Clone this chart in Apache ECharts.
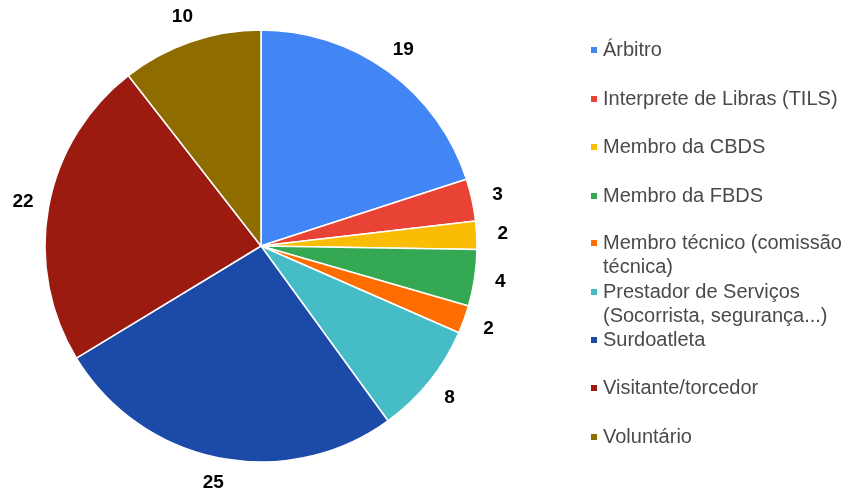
<!DOCTYPE html>
<html>
<head>
<meta charset="utf-8">
<script src="https://cdn.jsdelivr.net/npm/echarts@6/dist/echarts.min.js"></script>
<style>html,body{margin:0;padding:0;background:#fff;}#c{width:849px;height:496px;}</style>
</head>
<body>
<div id="c"></div>
<script>
const categories = ["Árbitro","Interprete de Libras (TILS)","Membro da CBDS","Membro da FBDS","Membro técnico (comissão técnica)","Prestador de Serviços (Socorrista, segurança...)","Surdoatleta","Visitante/torcedor","Voluntário"];
const legendLabels = ["Árbitro","Interprete de Libras (TILS)","Membro da CBDS","Membro da FBDS","Membro técnico (comissão\ntécnica)","Prestador de Serviços\n(Socorrista, segurança...)","Surdoatleta","Visitante/torcedor","Voluntário"];
const values = [19,3,2,4,2,8,25,22,10];
const colors = ["#4285f4","#e94335","#fbbc04","#34a853","#ff6d01","#46bdc6","#1b4aa8","#9c1b11","#8f6c00"];

const chart = echarts.init(document.getElementById('c'));
const legendCenters = [50,99,147,196,243,292,340,388,437];
const legends = categories.map((name, i) => {
  const twoLine = legendLabels[i].indexOf('\n') >= 0;
  return {
    orient: 'vertical',
    left: 589,
    top: legendCenters[i] - (twoLine ? 36 : 12),
    padding: 0,
    itemWidth: 8,
    itemHeight: 8,
    icon: 'rect',
    selectedMode: false,
    data: [name],
    formatter: () => (twoLine ? ' \n' : '') + legendLabels[i],
    textStyle: {
      fontFamily: 'Liberation Sans, Arial, sans-serif',
      fontSize: 20,
      color: '#4a4a4a',
      lineHeight: 24
    }
  };
});

chart.setOption({
  animation: false,
  color: colors,
  legend: legends,
  series: [{
    type: 'pie',
    center: [261, 246],
    radius: 216,
    startAngle: 90,
    clockwise: true,
    avoidLabelOverlap: false,
    data: categories.map((n, i) => ({ name: n, value: values[i] })),
    itemStyle: { borderColor: '#fff', borderWidth: 1.5 },
    label: {
      show: true,
      position: 'outside',
      formatter: '{c}',
      color: '#000',
      fontWeight: 'bold',
      fontSize: 19,
      distanceToLabelLine: 0,
      fontFamily: 'Liberation Sans, Arial, sans-serif'
    },
    labelLine: { show: false, length: 26, length2: 0 },
    labelLayout: function () { return { align: 'center' }; },
    emphasis: { disabled: true }
  }]
});
</script>
</body>
</html>
